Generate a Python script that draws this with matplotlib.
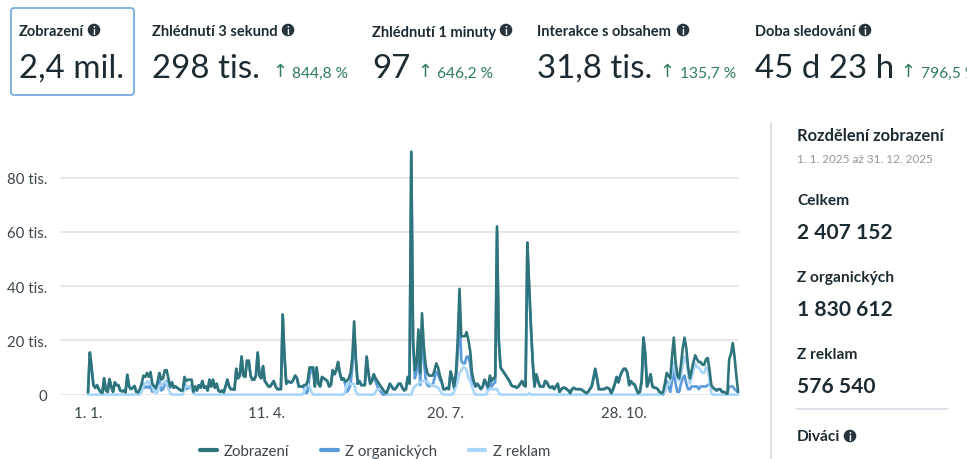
import numpy as np
import matplotlib
matplotlib.use('Agg')
import matplotlib.pyplot as plt
from matplotlib.patches import Circle, FancyBboxPatch

plt.rcParams['font.family'] = ['Lato', 'DejaVu Sans']
plt.rcParams['lines.solid_capstyle'] = 'round'

# daily values in thousands, 1.1. to 31.12., ten days per row
views = [
    0.8, 15.5, 10, 3.5, 2.5, 3.5, 2, 1, 0.6, 6,
    1.5, 1, 5.7, 3, 1, 4.5, 3.5, 3.5, 1.5, 1.2,
    1.5, 0.8, 7.3, 3, 2, 2.5, 3.2, 1, 0.8, 2,
    4, 7, 6.5, 8, 6.5, 8.3, 4, 3, 2.5, 5,
    8, 5.5, 6, 9, 9, 6, 3, 4.5, 2.5, 3,
    2.5, 2, 1.5, 1.5, 6.5, 5, 5.5, 5.5, 5.5, 1,
    3, 1.5, 3.5, 2.5, 5, 2.5, 3, 1.5, 5.5, 3,
    5.5, 2.5, 4, 1.5, 1, 1.5, 0.8, 3, 5.5, 3,
    2, 2, 1.8, 9.5, 6, 7, 14, 7, 6.5, 12.5,
    12.5, 7, 5.5, 5.5, 7, 15.5, 7, 6, 10.5, 5,
    4, 3, 3, 4, 5, 3, 2, 2, 2, 29.5,
    14, 4, 5, 4.5, 4.5, 5.5, 7, 6, 3, 3,
    3, 3.5, 3.5, 5, 10, 10, 10, 3, 10, 4,
    3, 6.5, 6, 5.5, 5, 3, 3.5, 9, 7.5, 9,
    12, 8, 5.5, 6, 5, 5, 6, 8, 14, 27,
    13, 4, 5, 3.5, 3.5, 3.5, 14, 8, 4, 5,
    7.5, 6, 5, 4, 3, 2, 1, 0.5, 2, 4,
    3, 2, 2, 3, 4, 4, 2.5, 1.5, 2, 6.5,
    4, 89.5, 20, 9, 12, 24, 8, 30, 18, 11,
    8, 7, 7, 7, 9, 11.5, 10, 7, 5, 2,
    2, 2.5, 2, 8.5, 6, 3, 8, 20, 39, 21.5,
    21.5, 21.5, 23, 20, 16, 8, 5, 3, 4, 3,
    2, 3, 5.5, 4, 3, 7, 5, 6, 6.5, 62,
    20, 10, 9, 8, 7, 6, 5, 3.5, 3, 3,
    2.5, 3, 4, 5, 3.5, 3, 56, 40, 25, 12,
    3, 7.5, 5, 3, 3, 3, 5, 4.5, 3, 2.5,
    3, 2, 3, 4, 1, 2, 2.5, 2.5, 2, 1.5,
    0.5, 2, 2.5, 2, 2, 2, 2, 1.5, 1, 0.5,
    1, 2, 3, 6, 9.5, 6, 2, 2, 2, 2,
    2.5, 2.5, 2, 0.5, 2, 4, 6.5, 4.5, 7, 8.5,
    9.5, 9.5, 8, 3.5, 5, 4, 3.8, 2, 0.5, 1,
    5, 21, 15, 3, 5, 7.5, 3, 2.5, 2.5, 2,
    1, 0.5, 1, 4, 8, 7, 6, 14, 21, 12,
    7, 6, 11, 17, 21, 17, 10, 6, 9, 12,
    14.5, 13, 12, 12, 11, 11, 13, 13.5, 9, 3.5,
    2.5, 2, 1.5, 2, 2, 1, 1, 0.5, 0.3, 13,
    15, 19, 14, 7, 1,
]
organic = [
    0.8, 15.5, 10, 3.5, 2.5, 3.5, 2, 1, 0.6, 6,
    1.5, 1, 5.7, 3, 1, 4.5, 3.5, 3.5, 1.5, 1.2,
    1.5, 0.8, 7.3, 3, 2, 2.5, 3.2, 1, 0.8, 2,
    3, 4, 2.5, 3, 2.5, 3.3, 1, 2, 2, 4,
    5, 1.5, 2, 4, 5, 4, 2.5, 4.5, 2.5, 3,
    2.5, 2, 1.5, 1.5, 4.5, 2, 2.5, 2.5, 3.5, 0.5,
    3, 1.5, 3.5, 2.5, 5, 2.5, 3, 1.5, 5.5, 3,
    5.5, 2.5, 4, 1.5, 1, 1.5, 0.8, 3, 5.5, 3,
    2, 2, 1.8, 9.5, 6, 7, 14, 7, 6.5, 12.5,
    12.5, 7, 5.5, 5.5, 7, 15.5, 7, 6, 10.5, 5,
    4, 3, 3, 4, 5, 3, 2, 2, 2, 29.5,
    14, 4, 5, 4.5, 4.5, 5.5, 7, 6, 3, 3,
    3, 2.5, 0.5, 1, 7, 9, 10, 3, 10, 4,
    3, 6.5, 6, 5.5, 5, 3, 3.5, 9, 7.5, 9,
    12, 8, 5.5, 6, 4, 1, 2, 4, 10, 23,
    12, 4, 5, 3.5, 3.5, 3.5, 14, 8, 4, 5,
    7.5, 5, 3, 2, 1, 0, 0, 0.5, 2, 4,
    3, 2, 2, 3, 4, 4, 2.5, 1.5, 2, 6.5,
    4, 89.5, 18, 6, 8.5, 20, 3.5, 25, 13, 6,
    3.5, 3, 3.5, 3.5, 6, 8.5, 7.5, 5.5, 4.5, 2,
    2, 2.5, 2, 8.5, 6, 2, 5, 15, 31, 12.5,
    11.5, 11.5, 14, 14, 11, 5, 4, 3, 4, 3,
    2, 3, 5.5, 4, 1.5, 5, 3, 4, 4.5, 60,
    19.5, 10, 9, 8, 7, 6, 5, 3.5, 3, 3,
    2.5, 3, 4, 5, 3.5, 3, 56, 39.5, 25, 12,
    3, 7.5, 5, 3, 3, 3, 5, 4.5, 3, 2.5,
    3, 2, 3, 4, 1, 2, 2.5, 2.5, 2, 1.5,
    0.5, 2, 2.5, 2, 2, 2, 2, 1.5, 1, 0.5,
    1, 2, 3, 6, 9.5, 6, 2, 2, 2, 2,
    2.5, 2.5, 2, 0.5, 2, 4, 6.5, 4.5, 7, 8.5,
    9.5, 9.5, 8, 3.5, 5, 4, 3.8, 2, 0.5, 1,
    5, 21, 15, 3, 5, 7.5, 3, 2.5, 2.5, 2,
    1, 0.5, 0, 3, 5, 3, 1, 5, 9, 4,
    1, 1, 4, 6, 7, 4, 2, 2, 3, 3,
    3, 3, 2, 3, 3, 3, 3, 3.5, 4, 3,
    2.5, 2, 1.5, 2, 2, 1, 1, 0.5, 0.3, 3,
    3, 3, 2, 1.5, 0.8,
]
ads = [
    0, 0, 0, 0, 0, 0, 0, 0, 0, 0,
    0, 0, 0, 0, 0, 0, 0, 0, 0, 0,
    0, 0, 0, 0, 0, 0, 0, 0, 0, 0,
    1, 3, 4, 5, 4, 5, 3, 1, 0.5, 1,
    3, 4, 4, 5, 4, 2, 0.5, 0, 0, 0,
    0, 0, 0, 0, 2, 3, 3, 3, 2, 0.5,
    0, 0, 0, 0, 0, 0, 0, 0, 0, 0,
    0, 0, 0, 0, 0, 0, 0, 0, 0, 0,
    0, 0, 0, 0, 0, 0, 0, 0, 0, 0,
    0, 0, 0, 0, 0, 0, 0, 0, 0, 0,
    0, 0, 0, 0, 0, 0, 0, 0, 0, 0,
    0, 0, 0, 0, 0, 0, 0, 0, 0, 0,
    0, 1, 3, 4, 3, 1, 0, 0, 0, 0,
    0, 0, 0, 0, 0, 0, 0, 0, 0, 0,
    0, 0, 0, 0, 1, 4, 4, 4, 4, 4,
    1, 0, 0, 0, 0, 0, 0, 0, 0, 0,
    0, 1, 2, 2, 2, 2, 1, 0, 0, 0,
    0, 0, 0, 0, 0, 0, 0, 0, 0, 0,
    0, 0, 2, 3, 3.5, 4, 4.5, 5, 5, 5,
    4.5, 4, 3.5, 3.5, 3, 3, 2.5, 1.5, 0.5, 0,
    0, 0, 0, 0, 0, 1, 3, 5, 8, 9,
    10, 10, 9, 6, 5, 3, 1, 0, 0, 0,
    0, 0, 0, 0, 1.5, 2, 2, 2, 2, 2,
    0.5, 0, 0, 0, 0, 0, 0, 0, 0, 0,
    0, 0, 0, 0, 0, 0, 0, 0.5, 0, 0,
    0, 0, 0, 0, 0, 0, 0, 0, 0, 0,
    0, 0, 0, 0, 0, 0, 0, 0, 0, 0,
    0, 0, 0, 0, 0, 0, 0, 0, 0, 0,
    0, 0, 0, 0, 0, 0, 0, 0, 0, 0,
    0, 0, 0, 0, 0, 0, 0, 0, 0, 0,
    0, 0, 0, 0, 0, 0, 0, 0, 0, 0,
    0, 0, 0, 0, 0, 0, 0, 0, 0, 0,
    0, 0, 1, 1, 3, 4, 5, 9, 12, 8,
    6, 5, 7, 11, 14, 13, 8, 4, 6, 9,
    11.5, 10, 10, 9, 8, 8, 10, 10, 5, 0.5,
    0, 0, 0, 0, 0, 0, 0, 0, 0, 0,
    0, 0, 0, 0, 0,
]
y_ticks = [0, 20, 40, 60, 80]
y_labels = ['0', '20 tis.', '40 tis.', '60 tis.', '80 tis.']
x_ticks = [0, 100, 200, 300]
x_labels = ['1. 1.', '11. 4.', '20. 7.', '28. 10.']
legend_names = ['Zobrazení', 'Z organických', 'Z reklam']

metric_names = ['Zobrazení', 'Zhlédnutí 3 sekund', 'Zhlédnutí 1 minuty', 'Interakce s obsahem', 'Doba sledování']
metric_values = ['2,4 mil.', '298 tis.', '97', '31,8 tis.', '45 d 23 h']
metric_changes = ['', '844,8 %', '646,2 %', '135,7 %', '796,5 %']

W, H = 967, 460
DARK = '#1c2b33'
GREEN = '#2f7d5b'

fig = plt.figure(figsize=(W / 100, H / 100), dpi=100)

# overlay in pixel coordinates for the page furniture
page = fig.add_axes([0, 0, 1, 1])
page.set_xlim(0, W)
page.set_ylim(H, 0)
page.axis('off')


def px(size):
    return size * 0.72


def info(x, y):
    page.add_patch(Circle((x, y), 6.3, color='#27343c', lw=0))
    page.text(x, y + 0.3, 'i', color='white', fontsize=px(11), weight='bold', ha='center', va='center')


page.add_patch(FancyBboxPatch((11, 9), 123, 87, boxstyle='round,pad=0,rounding_size=3',
                              fc='white', ec='#6ea3d9', lw=1.2))

name_x = [19, 152, 372, 537, 755]
icon_x = [94, 288, 506, 683, 865]
value_x = [19, 152, 372, 537, 755]
arrow_x = [0, 280, 425, 667, 908]
change_x = [0, 292, 437, 680, 921]
for i in range(5):
    page.text(name_x[i], 36.5, metric_names[i], color=DARK, fontsize=px(14.6), weight='bold')
    info(icon_x[i], 31)
    page.text(value_x[i], 78, metric_values[i], color=DARK, fontsize=px(33))
    if metric_changes[i]:
        page.text(arrow_x[i], 72, '↑', color=GREEN, fontsize=px(18), ha='center', va='center',
                  family=['DejaVu Sans'])
        page.text(change_x[i], 78, metric_changes[i], color=GREEN, fontsize=px(15.5))

# side panel
page.plot([771, 771], [124, 460], color='#d8dce3', lw=1.2)
page.plot([797, 947], [410, 410], color='#d8dce3', lw=1.2)
page.text(797, 136, 'Rozdělení zobrazení', color=DARK, fontsize=px(16.5), weight='bold', va='center')
page.text(797, 160, '1. 1. 2025 až 31. 12. 2025', color='#90969c', fontsize=px(11.7), va='center')
page.text(797, 201, 'Celkem', color=DARK, fontsize=px(15.5), weight='bold', va='center')
page.text(797, 233, '2 407 152', color=DARK, fontsize=px(21), weight='bold', va='center')
page.text(797, 278, 'Z organických', color=DARK, fontsize=px(15.5), weight='bold', va='center')
page.text(797, 310, '1 830 612', color=DARK, fontsize=px(21), weight='bold', va='center')
page.text(797, 355, 'Z reklam', color=DARK, fontsize=px(15.5), weight='bold', va='center')
page.text(797, 387, '576 540', color=DARK, fontsize=px(21), weight='bold', va='center')
page.text(797, 437, 'Diváci', color=DARK, fontsize=px(15.5), weight='bold', va='center')
info(850, 437)

# chart
top, bottom, left, right = 140.6, 395.6, 60, 739
ax = fig.add_axes([left / W, 1 - bottom / H, (right - left) / W, (bottom - top) / H])
ax.patch.set_alpha(0)
days = np.arange(len(views))
ax.plot(days, views, color='#2d747b', lw=1.9, zorder=4, clip_on=False, label=legend_names[0])
ax.plot(days, organic, color='#5b9bdc', lw=1.9, zorder=2, clip_on=False, label=legend_names[1])
ax.plot(days, ads, color='#a9d6f8', lw=1.9, zorder=3, clip_on=False, label=legend_names[2])

ax.set_xlim(-15.7, 364.5)
ax.set_ylim(0, 94)
ax.set_yticks(y_ticks, y_labels)
ax.set_xticks(x_ticks, x_labels)
ax.grid(axis='y', color='#e3e3e3', lw=1.2)
ax.set_axisbelow(True)
for s in ax.spines.values():
    s.set_visible(False)
ax.tick_params(axis='both', length=0, labelsize=px(15), labelcolor='#3c464d')
ax.tick_params(axis='y', pad=9)
ax.tick_params(axis='x', pad=8)

ax.legend(loc='center left', bbox_to_anchor=(200 / W, 1 - 452 / H), bbox_transform=fig.transFigure,
          ncol=3, frameon=False, fontsize=px(15), borderpad=0, borderaxespad=0,
          handlelength=1.1, handletextpad=0.5, columnspacing=2.1, labelcolor='#3c464d')
for line in ax.get_legend().get_lines():
    line.set_linewidth(3)

fig.savefig('out.png', dpi=100)
